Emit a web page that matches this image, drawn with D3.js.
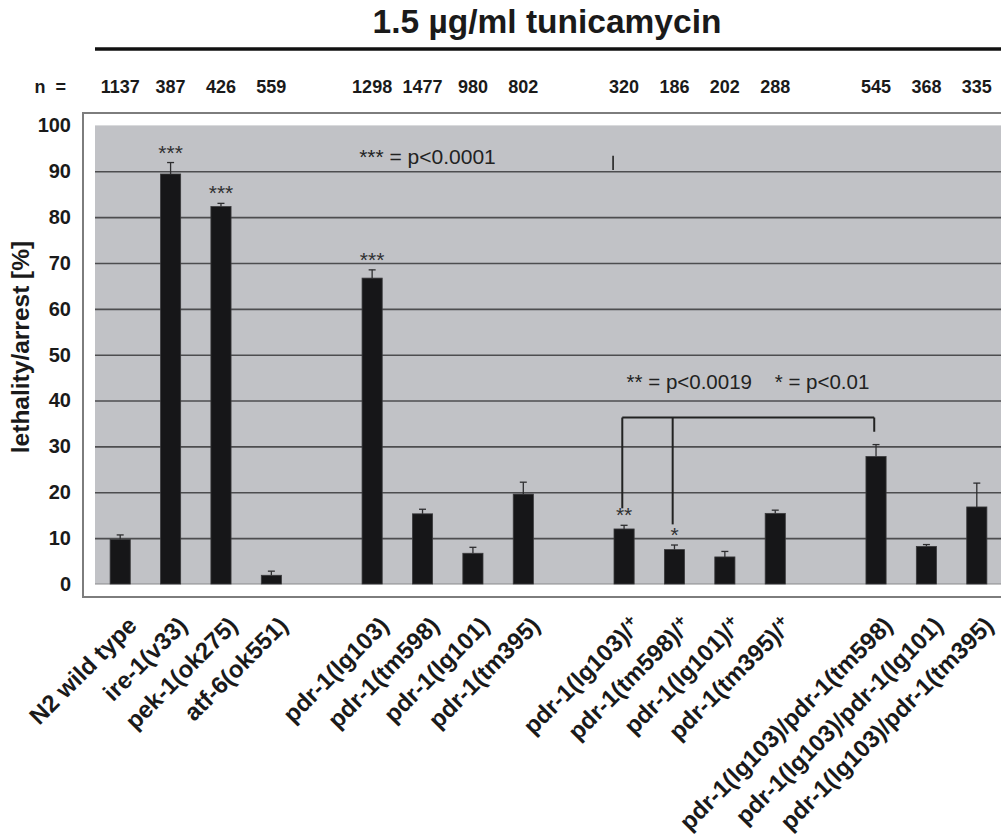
<!DOCTYPE html>
<html>
<head>
<meta charset="utf-8">
<script src="https://cdn.jsdelivr.net/npm/d3@7"></script>
<style>
  body { margin: 0; background: #fff; }
  text { font-family: "Liberation Sans", Arial, Helvetica, sans-serif; }
</style>
</head>
<body>
<svg id="chart" width="1001" height="839"></svg>
<script>
// Strains, in plotting order; groups are separated by an empty slot
const strains = [
  "N2 wild type", "ire-1(v33)", "pek-1(ok275)", "atf-6(ok551)",
  "pdr-1(lg103)", "pdr-1(tm598)", "pdr-1(lg101)", "pdr-1(tm395)",
  "pdr-1(lg103)/+", "pdr-1(tm598)/+", "pdr-1(lg101)/+", "pdr-1(tm395)/+",
  "pdr-1(lg103)/pdr-1(tm598)", "pdr-1(lg103)/pdr-1(lg101)", "pdr-1(lg103)/pdr-1(tm395)"
];
const groupOf = [0, 0, 0, 0, 1, 1, 1, 1, 2, 2, 2, 2, 3, 3, 3];
// lethality/arrest in percent, and its error
const lethality = [9.7, 89.4, 82.3, 1.9, 66.7, 15.3, 6.7, 19.6, 12.0, 7.5, 5.9, 15.4, 27.8, 8.2, 16.8];
const errors    = [1.0, 2.5, 0.7, 0.9, 1.8, 1.0, 1.3, 2.6, 0.8, 1.0, 1.2, 0.7, 2.6, 0.4, 5.2];
const nWorms    = [1137, 387, 426, 559, 1298, 1477, 980, 802, 320, 186, 202, 288, 545, 368, 335];
const signif    = ["", "***", "***", "", "***", "", "", "", "**", "*", "", "", "", "", ""];
const yTicks    = [0, 10, 20, 30, 40, 50, 60, 70, 80, 90, 100];
const gridTicks = [10, 20, 30, 40, 50, 60, 70, 80, 90];

// comparison bracket: joins two heterozygotes to the trans-heterozygote
const bracketLevel = 36.3;
const bracketFrom  = ["pdr-1(lg103)/+", "pdr-1(tm598)/+", "pdr-1(lg103)/pdr-1(tm598)"];
const bracketDown  = [16.5, 13.0, 33.2];

const svg = d3.select("#chart");

// slot domain: every strain plus one blank slot between groups
const slots = [];
strains.forEach((s, i) => {
  if (i > 0 && groupOf[i] !== groupOf[i - 1]) slots.push("gap" + groupOf[i]);
  slots.push(s);
});

const plot = { left: 95, right: 1002, top: 125.4, bottom: 584 };
const x = d3.scaleBand().domain(slots).range([plot.left, plot.right]).padding(0);
const y = d3.scaleLinear().domain([0, 100]).range([plot.bottom, plot.top]);
const step = x.bandwidth();
const cx = s => x(s) + step / 2;
const barW = step * 0.4;

// title and rule
svg.append("text")
  .attr("x", 547).attr("y", 33)
  .attr("text-anchor", "middle")
  .style("font-size", "33.5px").style("font-weight", "bold").attr("fill", "#1a1a1a")
  .text("1.5 µg/ml tunicamycin");
svg.append("line")
  .attr("x1", plot.left).attr("x2", 1001).attr("y1", 49).attr("y2", 49)
  .attr("stroke", "#111").attr("stroke-width", 3.5);

// sample sizes
svg.append("text")
  .attr("x", 66).attr("y", 93).attr("text-anchor", "end")
  .attr("xml:space", "preserve")
  .style("font-size", "18px").style("font-weight", "bold").attr("fill", "#1a1a1a")
  .text("n  =");
svg.append("g").selectAll("text").data(strains).join("text")
  .attr("x", d => cx(d)).attr("y", 93).attr("text-anchor", "middle")
  .style("font-size", "18px").style("font-weight", "bold").attr("fill", "#1a1a1a")
  .text((d, i) => nWorms[i]);

// outer frame and plot background
svg.append("rect")
  .attr("x", 83).attr("y", 113).attr("width", 1000).attr("height", 484)
  .attr("fill", "#fff").attr("stroke", "#7d7d7d").attr("stroke-width", 2);
svg.append("rect")
  .attr("x", plot.left).attr("y", plot.top)
  .attr("width", 1001 - plot.left).attr("height", plot.bottom - plot.top)
  .attr("fill", "#c1c2c6");

// gridlines
const grid = svg.append("g").attr("transform", `translate(${plot.left},0)`)
  .call(d3.axisLeft(y).tickValues(gridTicks).tickSize(-(1001 - plot.left)).tickFormat(""));
grid.select(".domain").remove();
grid.selectAll(".tick line").attr("stroke", "#4d4d4f").attr("stroke-width", 1.6);
svg.append("line")
  .attr("x1", plot.left).attr("x2", 1001).attr("y1", y(0)).attr("y2", y(0))
  .attr("stroke", "#8a8a8c").attr("stroke-width", 1.2);

// y axis labels
const yAxis = svg.append("g").attr("transform", "translate(71,0)")
  .call(d3.axisLeft(y).tickValues(yTicks).tickSize(0).tickPadding(0));
yAxis.select(".domain").remove();
yAxis.selectAll("text")
  .style("font-size", "20px").style("font-weight", "bold")
  .style("font-family", "'Liberation Sans', Arial, sans-serif").attr("fill", "#1a1a1a");

svg.append("text")
  .attr("transform", "translate(29,347) rotate(-90)")
  .attr("text-anchor", "middle")
  .style("font-size", "24.5px").style("font-weight", "bold").attr("fill", "#1a1a1a")
  .text("lethality/arrest [%]");

// bars
svg.append("g").selectAll("rect").data(strains).join("rect")
  .attr("x", d => cx(d) - barW / 2)
  .attr("width", barW)
  .attr("y", (d, i) => y(lethality[i]))
  .attr("height", (d, i) => y(0) - y(lethality[i]))
  .attr("fill", "#161618").attr("stroke", "#3a3a3c").attr("stroke-width", 0.8);

// error bars (upper half only)
const eb = svg.append("g").attr("stroke", "#2e2e30").attr("stroke-width", 1.3);
strains.forEach((s, i) => {
  const top = y(lethality[i] + errors[i]);
  eb.append("line").attr("x1", cx(s)).attr("x2", cx(s))
    .attr("y1", y(lethality[i])).attr("y2", top);
  eb.append("line").attr("x1", cx(s) - 3.5).attr("x2", cx(s) + 3.5)
    .attr("y1", top).attr("y2", top);
});

// significance marks above bars
svg.append("g").selectAll("text").data(strains).join("text")
  .attr("x", d => cx(d))
  .attr("y", (d, i) => y(lethality[i] + errors[i]) - 3)
  .attr("text-anchor", "middle")
  .style("font-size", "21px").attr("fill", "#303032")
  .text((d, i) => signif[i]);

// bracket
const bracket = svg.append("g").attr("stroke", "#222").attr("stroke-width", 2).attr("fill", "none");
const bx = bracketFrom.map(s => cx(s) - 1.8);
bracket.append("line")
  .attr("x1", d3.min(bx)).attr("x2", d3.max(bx))
  .attr("y1", y(bracketLevel)).attr("y2", y(bracketLevel));
bracketFrom.forEach((s, i) => {
  bracket.append("line")
    .attr("x1", bx[i]).attr("x2", bx[i])
    .attr("y1", y(bracketLevel)).attr("y2", y(bracketDown[i]));
});

// p-value keys
svg.append("text")
  .attr("x", cx("pdr-1(lg103)") - 13).attr("y", y(91.5))
  .style("font-size", "21px").attr("fill", "#222")
  .text("*** = p<0.0001");
svg.append("text")
  .attr("x", cx("pdr-1(lg103)/+") + 2.5).attr("y", y(42.5))
  .style("font-size", "20.5px").attr("fill", "#222")
  .attr("xml:space", "preserve")
  .text("** = p<0.0019    * = p<0.01");
svg.append("line")
  .attr("x1", cx("pdr-1(lg103)/+") - 11).attr("x2", cx("pdr-1(lg103)/+") - 11)
  .attr("y1", y(93.4)).attr("y2", y(90.3))
  .attr("stroke", "#222").attr("stroke-width", 1.6);

// strain labels
const labels = svg.append("g");
strains.forEach(s => {
  const t = labels.append("text")
    .attr("transform", `translate(${cx(s) + 18},627) rotate(-45)`)
    .attr("text-anchor", "end")
    .style("font-size", "24px").style("font-weight", "bold").attr("fill", "#1a1a1a");
  if (s.endsWith("/+")) {
    t.append("tspan").text(s.slice(0, -1));
    t.append("tspan").attr("dy", -8).style("font-size", "17px").text("+");
  } else {
    t.text(s);
  }
});
</script>
</body>
</html>
